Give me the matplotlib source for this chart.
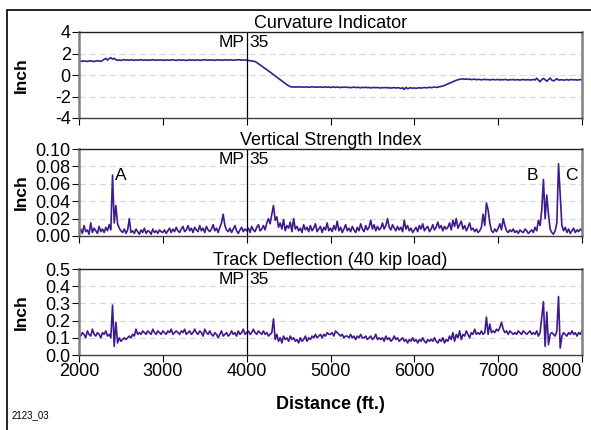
#!/usr/bin/env python
# track survey plot: curvature, vertical strength index, deflection
import numpy as np
import matplotlib.pyplot as plt
from matplotlib.patches import Rectangle

plt.rcParams['font.family'] = ['Liberation Sans', 'DejaVu Sans']

# samples every 20 ft from 2000 to 8000 ft
start_ft = 2000
step_ft = 20

curvature = [
    1.28, 1.30, 1.27, 1.31, 1.29, 1.26, 1.30, 1.32, 1.28, 1.25,
    1.30, 1.33, 1.29, 1.27, 1.35, 1.45, 1.55, 1.38, 1.52, 1.60,
    1.48, 1.55, 1.42, 1.36, 1.40, 1.35, 1.40, 1.43, 1.38, 1.41,
    1.37, 1.42, 1.39, 1.36, 1.41, 1.38, 1.40, 1.43, 1.37, 1.39,
    1.41, 1.36, 1.40, 1.38, 1.42, 1.39, 1.37, 1.41, 1.38, 1.40,
    1.38, 1.36, 1.41, 1.39, 1.37, 1.40, 1.42, 1.38, 1.36, 1.39,
    1.41, 1.37, 1.40, 1.38, 1.35, 1.39, 1.42, 1.38, 1.40, 1.37,
    1.39, 1.41, 1.36, 1.38, 1.40, 1.43, 1.39, 1.37, 1.41, 1.38,
    1.40, 1.36, 1.39, 1.42, 1.38, 1.40, 1.37, 1.41, 1.39, 1.38,
    1.42, 1.40, 1.37, 1.41, 1.39, 1.43, 1.40, 1.38, 1.41, 1.39,
    1.36, 1.34, 1.33, 1.31, 1.29, 1.25, 1.16, 1.05, 0.93, 0.82,
    0.72, 0.60, 0.49, 0.38, 0.27, 0.15, 0.03, -0.09, -0.20, -0.32,
    -0.43, -0.55, -0.67, -0.78, -0.90, -1.00, -1.08, -1.12, -1.10, -1.13,
    -1.11, -1.12, -1.09, -1.14, -1.11, -1.13, -1.10, -1.15, -1.12, -1.09,
    -1.13, -1.11, -1.14, -1.12, -1.10, -1.15, -1.13, -1.11, -1.14, -1.12,
    -1.16, -1.13, -1.11, -1.15, -1.12, -1.14, -1.17, -1.13, -1.15, -1.12,
    -1.16, -1.14, -1.18, -1.15, -1.13, -1.17, -1.14, -1.16, -1.19, -1.15,
    -1.17, -1.14, -1.18, -1.16, -1.20, -1.17, -1.15, -1.19, -1.16, -1.18,
    -1.21, -1.17, -1.19, -1.16, -1.20, -1.18, -1.22, -1.19, -1.17, -1.21,
    -1.18, -1.20, -1.25, -1.18, -1.35, -1.15, -1.28, -1.22, -1.19, -1.23,
    -1.20, -1.24, -1.21, -1.18, -1.22, -1.19, -1.16, -1.20, -1.17, -1.14,
    -1.18, -1.15, -1.12, -1.16, -1.13, -1.10, -1.08, -1.03, -0.97, -0.90,
    -0.83, -0.76, -0.69, -0.62, -0.55, -0.49, -0.44, -0.40, -0.38, -0.36,
    -0.39, -0.37, -0.41, -0.38, -0.43, -0.40, -0.39, -0.44, -0.41, -0.42,
    -0.45, -0.43, -0.40, -0.44, -0.42, -0.46, -0.43, -0.41, -0.45, -0.44,
    -0.42, -0.46, -0.43, -0.45, -0.41, -0.44, -0.47, -0.43, -0.45, -0.42,
    -0.46, -0.44, -0.43, -0.47, -0.44, -0.42, -0.46, -0.45, -0.43, -0.47,
    -0.44, -0.42, -0.46, -0.30, -0.48, -0.62, -0.43, -0.32, -0.44, -0.58,
    -0.43, -0.28, -0.48, -0.55, -0.46, -0.35, -0.47, -0.45, -0.44, -0.48,
    -0.46, -0.43, -0.47, -0.45, -0.42, -0.46, -0.44, -0.47, -0.45, -0.43,
    -0.46,
]

strength = [
    0.004, 0.008, 0.003, 0.012, 0.005, 0.007, 0.002, 0.015, 0.004, 0.009,
    0.006, 0.003, 0.011, 0.005, 0.008, 0.004, 0.010, 0.006, 0.013, 0.007,
    0.070, 0.015, 0.035, 0.014, 0.009, 0.006, 0.004, 0.008, 0.003, 0.007,
    0.020, 0.004, 0.006, 0.003, 0.008, 0.005, 0.002, 0.007, 0.004, 0.009,
    0.003, 0.006, 0.005, 0.002, 0.008, 0.004, 0.006, 0.003, 0.007, 0.005,
    0.004, 0.007, 0.003, 0.006, 0.009, 0.004, 0.008, 0.005, 0.010, 0.006,
    0.004, 0.008, 0.011, 0.005, 0.007, 0.012, 0.006, 0.009, 0.004, 0.010,
    0.007, 0.005, 0.012, 0.006, 0.009, 0.004, 0.011, 0.007, 0.005, 0.008,
    0.013, 0.006, 0.009, 0.004, 0.010, 0.015, 0.025, 0.012, 0.007, 0.005,
    0.009, 0.004, 0.008, 0.012, 0.006, 0.003, 0.007, 0.010, 0.005, 0.008,
    0.006, 0.009, 0.004, 0.011, 0.007, 0.005, 0.010, 0.013, 0.006, 0.008,
    0.012, 0.007, 0.015, 0.020, 0.014, 0.025, 0.035, 0.018, 0.022, 0.010,
    0.015, 0.008, 0.019, 0.006, 0.012, 0.009, 0.016, 0.005, 0.020, 0.008,
    0.011, 0.006, 0.009, 0.004, 0.013, 0.007, 0.010, 0.005, 0.012, 0.006,
    0.009, 0.014, 0.005, 0.008, 0.011, 0.004, 0.010, 0.007, 0.015, 0.006,
    0.009, 0.005, 0.012, 0.007, 0.017, 0.006, 0.010, 0.004, 0.008, 0.013,
    0.006, 0.009, 0.005, 0.011, 0.007, 0.004, 0.010, 0.006, 0.014, 0.008,
    0.005, 0.012, 0.007, 0.010, 0.018, 0.008, 0.013, 0.006, 0.011, 0.007,
    0.009, 0.015, 0.008, 0.012, 0.020, 0.010, 0.007, 0.013, 0.009, 0.006,
    0.011, 0.007, 0.010, 0.005, 0.018, 0.008, 0.012, 0.006, 0.009, 0.004,
    0.007, 0.010, 0.005, 0.012, 0.008, 0.014, 0.006, 0.009, 0.011, 0.005,
    0.008, 0.013, 0.007, 0.010, 0.016, 0.009, 0.012, 0.006, 0.011, 0.008,
    0.010, 0.015, 0.007, 0.018, 0.011, 0.020, 0.009, 0.013, 0.017, 0.008,
    0.012, 0.006, 0.010, 0.015, 0.007, 0.009, 0.005, 0.008, 0.004, 0.006,
    0.010, 0.025, 0.012, 0.038, 0.030, 0.015, 0.006, 0.004, 0.008, 0.005,
    0.009, 0.014, 0.007, 0.020, 0.012, 0.006, 0.004, 0.007, 0.005, 0.008,
    0.004, 0.006, 0.003, 0.007, 0.005, 0.004, 0.008, 0.006, 0.003, 0.005,
    0.007, 0.004, 0.010, 0.006, 0.018, 0.012, 0.030, 0.065, 0.020, 0.047,
    0.025, 0.008, 0.004, 0.002, 0.006, 0.015, 0.083, 0.048, 0.012, 0.006,
    0.010, 0.004, 0.008, 0.003, 0.006, 0.009, 0.004, 0.007, 0.005, 0.008,
    0.006,
]

deflection = [
    0.12, 0.11, 0.13, 0.12, 0.10, 0.14, 0.12, 0.11, 0.15, 0.12,
    0.11, 0.13, 0.12, 0.10, 0.13, 0.12, 0.14, 0.11, 0.12, 0.10,
    0.29, 0.05, 0.19, 0.07, 0.10, 0.08, 0.09, 0.10, 0.09, 0.10,
    0.11, 0.10, 0.12, 0.11, 0.15, 0.12, 0.13, 0.12, 0.14, 0.13,
    0.12, 0.14, 0.13, 0.12, 0.15, 0.13, 0.12, 0.14, 0.13, 0.12,
    0.14, 0.13, 0.12, 0.14, 0.13, 0.15, 0.12, 0.13, 0.14, 0.13,
    0.12, 0.14, 0.13, 0.15, 0.12, 0.13, 0.14, 0.12, 0.13, 0.15,
    0.13, 0.12, 0.14, 0.13, 0.11, 0.15, 0.13, 0.12, 0.14, 0.12,
    0.11, 0.13, 0.12, 0.10, 0.12, 0.14, 0.11, 0.12, 0.13, 0.11,
    0.12, 0.14, 0.12, 0.13, 0.11, 0.14, 0.12, 0.13, 0.15, 0.12,
    0.13, 0.14, 0.12, 0.13, 0.15, 0.13, 0.12, 0.14, 0.13, 0.12,
    0.14, 0.12, 0.13, 0.11, 0.12, 0.13, 0.21, 0.09, 0.12, 0.08,
    0.10, 0.07, 0.11, 0.09, 0.10, 0.08, 0.11, 0.09, 0.10, 0.08,
    0.09, 0.07, 0.10, 0.08, 0.09, 0.11, 0.08, 0.10, 0.09, 0.11,
    0.10, 0.12, 0.10, 0.11, 0.12, 0.10, 0.12, 0.11, 0.13, 0.12,
    0.12, 0.13, 0.11, 0.14, 0.13, 0.12, 0.11, 0.12, 0.10, 0.11,
    0.11, 0.10, 0.12, 0.10, 0.11, 0.09, 0.11, 0.10, 0.12, 0.10,
    0.10, 0.11, 0.09, 0.10, 0.11, 0.09, 0.10, 0.12, 0.09, 0.10,
    0.09, 0.10, 0.08, 0.11, 0.09, 0.10, 0.08, 0.09, 0.11, 0.09,
    0.10, 0.08, 0.09, 0.10, 0.08, 0.09, 0.07, 0.09, 0.08, 0.10,
    0.08, 0.09, 0.07, 0.09, 0.08, 0.10, 0.08, 0.07, 0.09, 0.08,
    0.09, 0.08, 0.10, 0.08, 0.07, 0.09, 0.08, 0.10, 0.07, 0.09,
    0.08, 0.11, 0.09, 0.13, 0.08, 0.12, 0.10, 0.14, 0.09, 0.12,
    0.11, 0.14, 0.12, 0.10, 0.13, 0.12, 0.15, 0.12, 0.13, 0.12,
    0.14, 0.12, 0.13, 0.22, 0.12, 0.18, 0.13, 0.14, 0.13, 0.15,
    0.14, 0.16, 0.19, 0.15, 0.13, 0.14, 0.12, 0.14, 0.13, 0.12,
    0.13, 0.12, 0.14, 0.13, 0.12, 0.14, 0.13, 0.12, 0.13, 0.14,
    0.12, 0.13, 0.12, 0.14, 0.11, 0.13, 0.22, 0.31, 0.05, 0.25,
    0.06, 0.12, 0.13, 0.12, 0.11, 0.14, 0.34, 0.04, 0.11, 0.13,
    0.12, 0.11, 0.13, 0.12, 0.14, 0.12, 0.13, 0.11, 0.13, 0.12,
    0.14,
]

titles = ['Curvature Indicator', 'Vertical Strength Index',
          'Track Deflection (40 kip load)']
ylims = [(-4, 4), (0, 0.1), (0, 0.5)]
yticks = [[-4, -2, 0, 2, 4],
          [0, 0.02, 0.04, 0.06, 0.08, 0.10],
          [0, 0.1, 0.2, 0.3, 0.4, 0.5]]
yfmt = ['%d', '%.2f', '%.1f']
xticks = [2000, 3000, 4000, 5000, 6000, 7000, 8000]
mp_ft = 4000
labels_abc = [('A', 2430, 0.069), ('B', 7404, 0.069), ('C', 7870, 0.069)]

line_color = '#3e1a8e'

for arr in (curvature, strength, deflection):
    assert len(arr) == 301, len(arr)
dist = start_ft + step_ft * np.arange(301)

fig = plt.figure(figsize=(5.91, 4.30), dpi=100)
# frame round the whole figure (right and bottom edges fall outside)
fig.patches.append(Rectangle((7 / 591, -0.1), 1.1, 1.1 - 10 / 430,
                             transform=fig.transFigure, fill=False,
                             edgecolor='black', linewidth=1.2))

left = 79 / 591
width = (582 - 79) / 591
tops = [32, 149, 269]
bottoms = [118, 236, 355]
series = [curvature, strength, deflection]

for k in range(3):
    ax = fig.add_axes([left, 1 - bottoms[k] / 430, width,
                       (bottoms[k] - tops[k]) / 430])
    ax.plot(dist, series[k], color=line_color, linewidth=1.2)
    ax.set_xlim(2000, 8000)
    ax.set_ylim(*ylims[k])
    ax.set_yticks(yticks[k])
    ax.set_yticklabels([yfmt[k] % v for v in yticks[k]])
    ax.set_xticks(xticks)
    for v in yticks[k][1:-1]:
        ax.axhline(v, color='#d8d8d8', linestyle=(0, (5, 3)),
                   linewidth=0.9, zorder=0)
    ax.axvline(mp_ft, color='black', linewidth=0.9)
    ytxt = ylims[k][1] - (ylims[k][1] - ylims[k][0]) * 0.04
    ax.text(mp_ft - 30, ytxt, 'MP', ha='right', va='top', fontsize=12.5)
    ax.text(mp_ft + 30, ytxt, '35', ha='left', va='top', fontsize=12.5)
    ax.set_title(titles[k], fontsize=13, pad=2)
    ax.set_ylabel('Inch', fontsize=12.5, fontweight='bold')
    ax.tick_params(axis='both', labelsize=13, length=5, width=0.8,
                   direction='out', pad=1)
    ax.spines['top'].set_color('#202020')
    ax.spines['top'].set_linewidth(1.0)
    ax.spines['bottom'].set_color('#404040')
    ax.spines['bottom'].set_linewidth(1.0)
    ax.spines['left'].set_color('#808080')
    ax.spines['left'].set_linewidth(1.8)
    ax.spines['right'].set_color('#808080')
    ax.spines['right'].set_linewidth(1.8)
    if k < 2:
        ax.set_xticklabels([])
    else:
        ax.set_xlabel('Distance (ft.)', fontsize=13, fontweight='bold',
                      labelpad=11)
        ax.get_xticklabels()[-1].set_ha('right')
    if k == 1:
        for lab, xx, yy in labels_abc:
            ax.text(xx, yy, lab, fontsize=12.5,
                    ha='left' if lab == 'A' else 'center', va='center')
    ax.yaxis.set_label_coords(-0.1, 0.5)

fig.text(12 / 591, 1 - 415 / 430, '2123_03', fontsize=7, va='center')

plt.savefig('out.png', dpi=100)
